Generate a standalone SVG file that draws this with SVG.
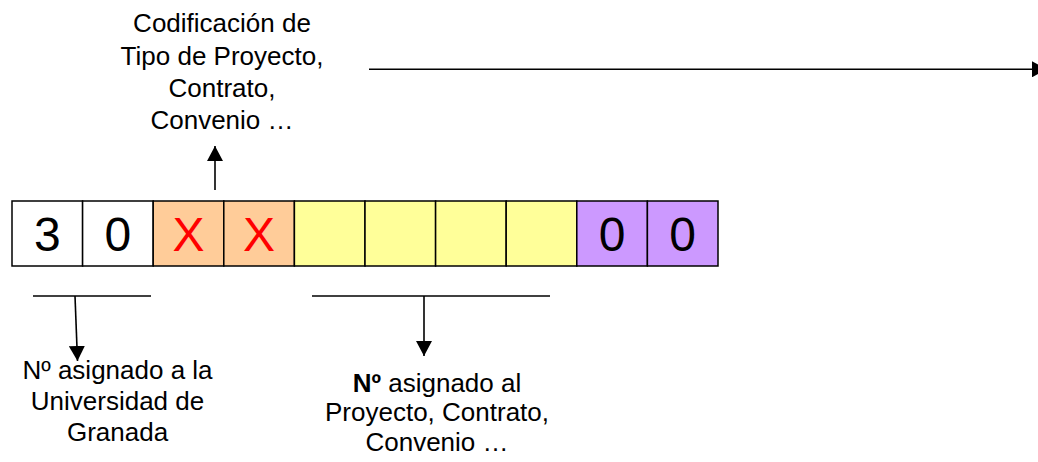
<svg xmlns="http://www.w3.org/2000/svg" width="1038" height="462" viewBox="0 0 1038 462">
<style>
.cell{stroke:#000;stroke-width:1.5}
.w{fill:#FFFFFF}.o{fill:#FFCC99}.y{fill:#FFFF99}.p{fill:#CC99FF}
.dig{font-family:"Liberation Sans",Arial,sans-serif;font-size:48px;text-anchor:middle}
.lbl{font-family:"Liberation Sans",Arial,sans-serif;font-size:26px;text-anchor:middle;fill:#000}
.ln{stroke:#000;stroke-width:1.6;fill:none}
</style>
<defs>
<marker id="ah" viewBox="0 0 10 10" refX="10" refY="5" markerWidth="10" markerHeight="10" markerUnits="userSpaceOnUse" orient="auto">
<path d="M0,0 L10,5 L0,10 z" fill="#000"/>
</marker>
<marker id="ahL" viewBox="0 0 10 10" refX="10" refY="5" markerWidth="15" markerHeight="16" markerUnits="userSpaceOnUse" orient="auto" preserveAspectRatio="none">
<path d="M0,0 L10,5 L0,10 z" fill="#000"/>
</marker>
</defs>
<g id="code-cells">
<rect class="cell w" x="12" y="201" width="70.6" height="65"/>
<rect class="cell w" x="82.6" y="201" width="70.6" height="65"/>
<rect class="cell o" x="153.2" y="201" width="70.6" height="65"/>
<rect class="cell o" x="223.8" y="201" width="70.6" height="65"/>
<rect class="cell y" x="294.4" y="201" width="70.6" height="65"/>
<rect class="cell y" x="365" y="201" width="70.6" height="65"/>
<rect class="cell y" x="435.6" y="201" width="70.6" height="65"/>
<rect class="cell y" x="506.2" y="201" width="70.6" height="65"/>
<rect class="cell p" x="576.8" y="201" width="70.6" height="65"/>
<rect class="cell p" x="647.4" y="201" width="70.6" height="65"/>
<text class="dig" x="47.3" y="251" fill="#000">3</text>
<text class="dig" x="117.9" y="251" fill="#000">0</text>
<text class="dig" x="188.5" y="251" fill="#FF0000">X</text>
<text class="dig" x="259.1" y="251" fill="#FF0000">X</text>
<text class="dig" x="612.1" y="251" fill="#000">0</text>
<text class="dig" x="682.7" y="251" fill="#000">0</text>
</g>
<g id="label-tipo">
<text class="lbl" x="222" y="32">Codificación de</text>
<text class="lbl" x="222" y="64.5">Tipo de Proyecto,</text>
<text class="lbl" x="222" y="97">Contrato,</text>
<text class="lbl" x="222" y="129">Convenio …</text>
</g>
<g id="label-universidad">
<text class="lbl" x="117.5" y="379">Nº asignado a la</text>
<text class="lbl" x="117.5" y="410">Universidad de</text>
<text class="lbl" x="117.5" y="441">Granada</text>
</g>
<g id="label-proyecto">
<text class="lbl" x="437" y="392"><tspan font-weight="bold">Nº</tspan> asignado al</text>
<text class="lbl" x="437" y="421">Proyecto, Contrato,</text>
<text class="lbl" x="437" y="451">Convenio …</text>
</g>
<g id="connectors">
<line class="ln" x1="215" y1="190" x2="215" y2="146" marker-end="url(#ahL)"/>
<line class="ln" x1="369" y1="69.3" x2="1047" y2="69.3" marker-end="url(#ahL)"/>
<line class="ln" x1="33" y1="296" x2="151" y2="296"/>
<line class="ln" x1="75" y1="296" x2="77.5" y2="361" marker-end="url(#ahL)"/>
<line class="ln" x1="312" y1="296" x2="550" y2="296"/>
<line class="ln" x1="424" y1="296" x2="424" y2="356" marker-end="url(#ahL)"/>
</g>
</svg>
